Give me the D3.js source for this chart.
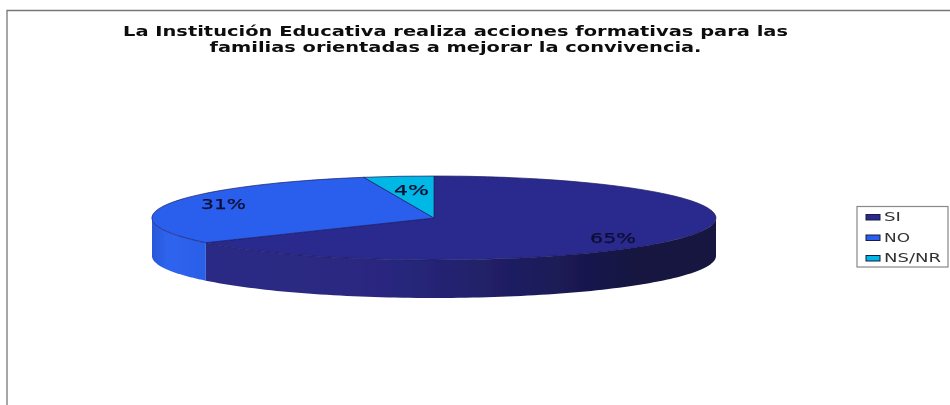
<!DOCTYPE html>
<html><head><meta charset="utf-8">
<script src="https://cdn.jsdelivr.net/npm/d3@7"></script>
<style>html,body{margin:0;padding:0;background:#fff}svg{display:block}</style>
</head><body><svg id="c" width="950" height="405"></svg>
<script>
const categories = ["SI","NO","NS/NR"];
const seriesValues = [65,31,4];
const labels = ["65%","31%","4%"];
const titleLines = ["La Institución Educativa realiza acciones formativas para las","familias orientadas a mejorar la convivencia."];
const topColors = ["#2c2c8e","#2b5fee","#05b8e6"];

const svg = d3.select("#c");
const cx=434, cy=218, rx=282, ry=42, depth=38;
const defs = svg.append("defs");
const f = defs.append("filter").attr("id","soft").attr("filterUnits","userSpaceOnUse")
  .attr("x",0).attr("y",0).attr("width",950).attr("height",405);
f.append("feGaussianBlur").attr("stdDeviation",0.6);
const g1 = defs.append("linearGradient").attr("id","wall0").attr("gradientUnits","userSpaceOnUse")
  .attr("x1",203).attr("x2",716).attr("y1",0).attr("y2",0);
[[0,"#2c2a86"],[0.35,"#292880"],[0.65,"#1d1c5c"],[0.85,"#15143f"],[1,"#15143f"]].forEach(s=>g1.append("stop").attr("offset",s[0]).attr("stop-color",s[1]));
const g2 = defs.append("linearGradient").attr("id","wall1").attr("gradientUnits","userSpaceOnUse")
  .attr("x1",152).attr("x2",203).attr("y1",0).attr("y2",0);
[[0,"#2858d8"],[0.3,"#2e64ee"],[1,"#2b5fe8"]].forEach(s=>g2.append("stop").attr("offset",s[0]).attr("stop-color",s[1]));

// frame
svg.append("path").attr("d","M7,405V10.5H950").attr("fill","none").attr("stroke","#777").attr("stroke-width",1.3);

const pie = d3.pie().sort(null).value(d=>d)(seriesValues);
const X = d3.scaleLinear().domain([-1,1]).range([cx-rx,cx+rx]);
const Y = d3.scaleLinear().domain([-1,1]).range([cy-ry,cy+ry]);
const px = a=>X(Math.sin(a)), py = a=>Y(-Math.cos(a));

const art = svg.append("g").attr("filter","url(#soft)");

// walls: only the visible front half
const line = d3.line().x(d=>d[0]).y(d=>d[1]);
pie.forEach((p,i)=>{
  const a0=Math.max(p.startAngle,Math.PI/2), a1=Math.min(p.endAngle,Math.PI*1.5);
  if(a1<=a0) return;
  const angs=d3.range(0,101).map(k=>a0+(a1-a0)*k/100);
  const top=angs.map(a=>[px(a),py(a)]);
  const bot=angs.slice().reverse().map(a=>[px(a),py(a)+depth]);
  art.append("path").attr("d",line(top.concat(bot))+"Z").attr("fill",`url(#wall${i})`);
});

// top faces
const arc = d3.arc().innerRadius(0).outerRadius(1);
const face = art.append("g").attr("transform",`translate(${cx},${cy}) scale(${rx},${ry})`);
face.selectAll("path").data(pie).join("path")
  .attr("d",arc).attr("fill",(d,i)=>topColors[i])
  .attr("stroke","#1a1a60").attr("stroke-width",0.7).attr("vector-effect","non-scaling-stroke");

const txt = svg.append("g").attr("filter","url(#soft)");
const labelPos=[[613,238],[223.5,204],[411.5,190]];
const labelWidth=[46,45,35];
labels.forEach((t,i)=>{
  txt.append("text").attr("x",labelPos[i][0]).attr("y",labelPos[i][1]).attr("dy","0.35em")
   .attr("text-anchor","middle").attr("font-family","DejaVu Sans").attr("font-size",14.5)
   .attr("textLength",labelWidth[i]).attr("lengthAdjust","spacingAndGlyphs")
   .attr("fill","#0c0c30").attr("stroke","#0c0c30").attr("stroke-width",0.25).text(t);
});
const titleWidth=[665,492];
titleLines.forEach((t,i)=>{
  txt.append("text").attr("x",455.5).attr("y",36+i*15.5).attr("text-anchor","middle")
   .attr("font-family","DejaVu Sans").attr("font-weight","bold").attr("font-size",13.5)
   .attr("textLength",titleWidth[i]).attr("lengthAdjust","spacingAndGlyphs")
   .attr("fill","#111").text(t);
});
txt.append("rect").attr("x",857).attr("y",206.5).attr("width",91).attr("height",60.5)
  .attr("fill","#fff").attr("stroke","#888").attr("stroke-width",1.2);
const lg = txt.selectAll("g.l").data(categories).join("g").attr("class","l")
  .attr("transform",(d,i)=>`translate(866,${217+i*20.5})`);
lg.append("rect").attr("x",0).attr("y",-2.5).attr("width",14).attr("height",5.5)
  .attr("fill",(d,i)=>topColors[i]).attr("stroke","#1a1a40").attr("stroke-width",1);
const legendWidth=[17,26,57];
lg.append("text").attr("x",18).attr("y",0).attr("dy","0.35em")
  .attr("font-family","DejaVu Sans").attr("font-size",12.5)
  .attr("textLength",(d,i)=>legendWidth[i]+ (i==1?0:0)).attr("lengthAdjust","spacingAndGlyphs")
  .attr("fill","#333").text(d=>d);
</script></body></html>
